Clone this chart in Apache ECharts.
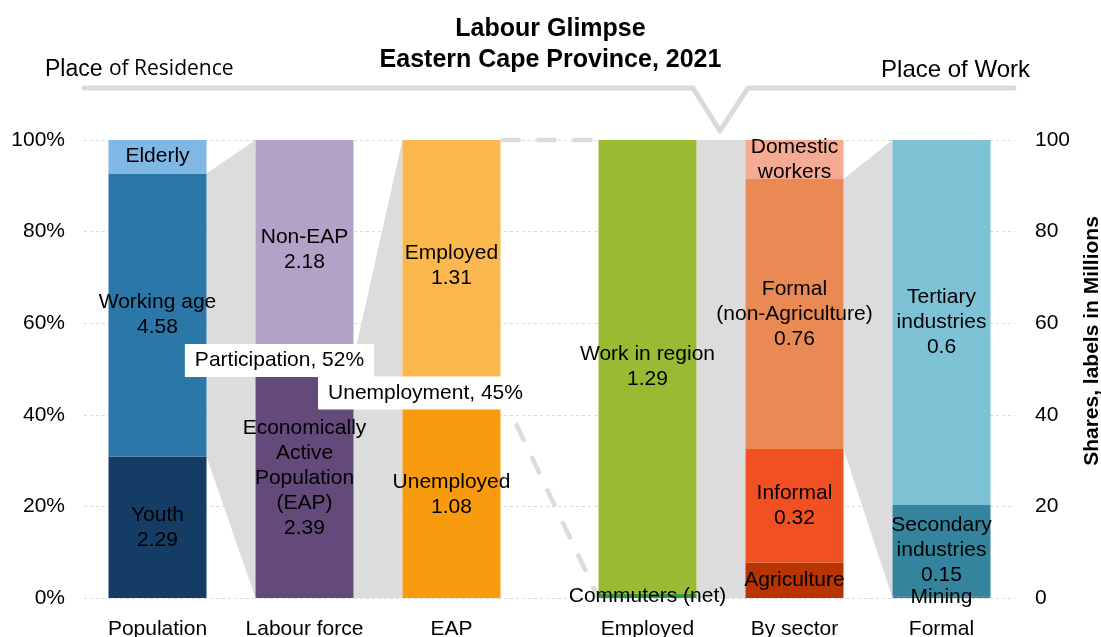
<!DOCTYPE html>
<html>
<head>
<meta charset="utf-8">
<script src="https://cdn.jsdelivr.net/npm/echarts@6/dist/echarts.min.js"></script>
<style>html,body{margin:0;padding:0;background:#fff}#c{width:1101px;height:637px}</style>
</head>
<body>
<div id="c"></div>
<script>
// ---------- data ----------
const categories = ['Population', 'Labour force', 'EAP', 'Employed', 'By sector', 'Formal'];

const popNames = ['Youth', 'Working age', 'Elderly'];
const popValues = [2.29, 4.58, 0.54];
const popShowValue = [true, true, false];

const lfNames = ['Economically\nActive\nPopulation\n(EAP)', 'Non-EAP'];
const lfValues = [2.39, 2.18];
const lfShowValue = [true, true];

const eapNames = ['Unemployed', 'Employed'];
const eapValues = [1.08, 1.31];
const eapShowValue = [true, true];

const empNames = ['Commuters (net)', 'Work in region'];
const empValues = [0.013, 1.29];
const empShowValue = [false, true];

const sectorNames = ['Agriculture', 'Informal', 'Formal\n(non-Agriculture)', 'Domestic\nworkers'];
const sectorValues = [0.10, 0.32, 0.76, 0.11];
const sectorShowValue = [false, true, true, false];

const formalNames = ['Mining', 'Secondary\nindustries', 'Tertiary\nindustries'];
const formalValues = [0.003, 0.15, 0.6];
const formalShowValue = [false, true, true];

// ---------- styles / layout ----------
const popColors = ['#143c64', '#2a77a8', '#7fb7e5'];
const lfColors = ['#634a7b', '#b3a2c8'];
const eapColors = ['#f89b0e', '#fbb84f'];
const empColors = ['#3a9a40', '#99bb33'];
const sectorColors = ['#b83400', '#f05022', '#e98a55', '#f4aa93'];
const formalColors = ['#2a7f96', '#33849c', '#7ec2d5'];

const SLOTS = [1, 4, 7, 11, 14, 17];   // slot position of each bar on a 19-slot band axis
const NSLOTS = 19;
const BAR_W = 98;
const FONT = '"Liberation Sans", Arial, sans-serif';
const LINK_GREY = '#dcdcdc';

const bars = [
  { names: popNames, values: popValues, show: popShowValue, colors: popColors },
  { names: lfNames, values: lfValues, show: lfShowValue, colors: lfColors },
  { names: eapNames, values: eapValues, show: eapShowValue, colors: eapColors },
  { names: empNames, values: empValues, show: empShowValue, colors: empColors },
  { names: sectorNames, values: sectorValues, show: sectorShowValue, colors: sectorColors },
  { names: formalNames, values: formalValues, show: formalShowValue, colors: formalColors }
];

// cumulative shares (%) of each bar
bars.forEach(b => {
  const total = b.values.reduce((a, v) => a + v, 0);
  b.shares = b.values.map(v => v / total * 100);
  let c = 0;
  b.cum = [0];
  b.shares.forEach(s => { c += s; b.cum.push(c); });
});

const xData = Array.from({ length: NSLOTS }, (_, i) => {
  const k = SLOTS.indexOf(i);
  return k >= 0 ? categories[k] : '';
});

const series = [];

// connectors: [fromBar, segIndex or -1 (whole), toBar, dashed]
const linkDefs = [
  [0, 1, 1, false],
  [1, 0, 2, false],
  [2, 1, 3, true],
  [3, -1, 4, false],
  [4, 2, 5, false]
];
const linkData = linkDefs.map(([f, s, t, d]) => {
  const fb = bars[f];
  const lo = s < 0 ? 0 : fb.cum[s];
  const hi = s < 0 ? 100 : fb.cum[s + 1];
  return [SLOTS[f], lo, hi, SLOTS[t], 0, 100, d ? 1 : 0];
});

series.push({
  type: 'custom',
  z: 1,
  silent: true,
  data: linkData,
  renderItem: function (params, api) {
    const half = BAR_W / 2;
    const fx = api.coord([api.value(0), 0])[0] + half;
    const tx = api.coord([api.value(3), 0])[0] - half;
    const yfl = api.coord([api.value(0), api.value(1)])[1];
    const yfh = api.coord([api.value(0), api.value(2)])[1];
    const ytl = api.coord([api.value(3), api.value(4)])[1];
    const yth = api.coord([api.value(3), api.value(5)])[1];
    if (api.value(6) === 1) {
      const st = { stroke: LINK_GREY, lineWidth: 4.5, lineDash: [20, 16], fill: null };
      return {
        type: 'group',
        children: [
          { type: 'line', shape: { x1: fx, y1: yfh, x2: tx, y2: yth }, style: st },
          { type: 'line', shape: { x1: fx, y1: yfl, x2: tx, y2: ytl }, style: st }
        ]
      };
    }
    return {
      type: 'polygon',
      shape: { points: [[fx, yfh], [tx, yth], [tx, ytl], [fx, yfl]] },
      style: { fill: LINK_GREY }
    };
  }
});

bars.forEach((b, bi) => {
  b.values.forEach((v, si) => {
    const data = Array(NSLOTS).fill('-');
    data[SLOTS[bi]] = b.shares[si];
    const text = b.show[si] ? b.names[si] + '\n' + String(v) : b.names[si];
    series.push({
      type: 'bar',
      name: b.names[si],
      stack: 'all',
      barWidth: BAR_W,
      z: 2,
      data: data,
      itemStyle: { color: b.colors[si] },
      label: {
        show: true,
        position: 'inside',
        formatter: () => text,
        color: '#000',
        fontFamily: FONT,
        fontSize: 21,
        lineHeight: 25
      },
      emphasis: { disabled: true }
    });
  });
});

// rate call-outs computed from data
const participation = Math.round(bars[1].shares[0]);
const unemployment = Math.round(bars[2].shares[0]);
const callouts = [
  { value: [SLOTS[1], bars[1].cum[1]], text: 'Participation, ' + participation + '%', offset: [-25, 2] },
  { value: [SLOTS[2], bars[2].cum[1]], text: 'Unemployment, ' + unemployment + '%', offset: [-26, 2] }
];
callouts.forEach(c => {
  series.push({
    type: 'scatter',
    z: 10,
    symbolSize: 1,
    itemStyle: { color: 'rgba(0,0,0,0)', opacity: 1 },
    silent: true,
    data: [{ value: c.value }],
    label: {
      show: true,
      position: 'inside',
      offset: c.offset,
      formatter: () => c.text,
      backgroundColor: '#ffffff',
      opacity: 1,
      padding: [4, 10, 4, 10],
      color: '#000',
      fontFamily: FONT,
      fontSize: 21,
      lineHeight: 25
    },
    emphasis: { disabled: true }
  });
});

const chart = echarts.init(document.getElementById('c'), null, { renderer: 'canvas' });
chart.setOption({
  animation: false,
  backgroundColor: '#fff',
  title: {
    text: 'Labour Glimpse\nEastern Cape Province, 2021',
    left: 'center',
    top: 9,
    textStyle: { fontFamily: FONT, fontWeight: 'bold', fontSize: 25, lineHeight: 31, color: '#000', align: 'center' }
  },
  grid: { left: 84, right: 86, top: 140, bottom: 39, containLabel: false, outerBoundsMode: 'none' },
  xAxis: {
    type: 'category',
    data: xData,
    axisLine: { show: false },
    axisTick: { show: false },
    axisLabel: { interval: 0, fontFamily: FONT, fontSize: 21, color: '#000', margin: 21 },
    splitLine: { show: false }
  },
  yAxis: [
    {
      type: 'value', min: 0, max: 100, interval: 20,
      axisLine: { show: false }, axisTick: { show: false },
      axisLabel: { formatter: '{value}%', fontFamily: FONT, fontSize: 21, color: '#000', margin: 19 },
      splitLine: { show: true, lineStyle: { color: '#d9d9d9', type: [3, 3], width: 1 } }
    },
    {
      type: 'value', min: 0, max: 100, interval: 20, position: 'right',
      axisLine: { show: false }, axisTick: { show: false },
      axisLabel: { fontFamily: FONT, fontSize: 21, color: '#000', margin: 20 },
      splitLine: { show: false }
    }
  ],
  graphic: [
    {
      type: 'polyline', z: 0, silent: true,
      shape: { points: [[84, 88], [693, 88], [720, 131], [748, 88], [1014, 88]] },
      style: { stroke: '#dadada', lineWidth: 5, fill: null, lineJoin: 'round', lineCap: 'round' }
    },
    {
      type: 'text', left: 45, top: 58,
      style: {
        text: '{a|Place }{b|of Residence}',
        rich: {
          a: { fontFamily: FONT, fontSize: 23, fill: '#000' },
          b: { fontFamily: '"Open Sans", sans-serif', fontSize: 21, fill: '#000' }
        }
      }
    },
    {
      type: 'text', right: 71, top: 58,
      style: { text: 'Place of Work', font: '24px ' + FONT, fill: '#000' }
    },
    {
      type: 'text', x: 1092, y: 341, rotation: Math.PI / 2,
      style: {
        text: 'Shares, labels in Millions', font: 'bold 21px ' + FONT, fill: '#000',
        align: 'center', verticalAlign: 'middle'
      }
    }
  ],
  series: series
});
</script>
</body>
</html>
